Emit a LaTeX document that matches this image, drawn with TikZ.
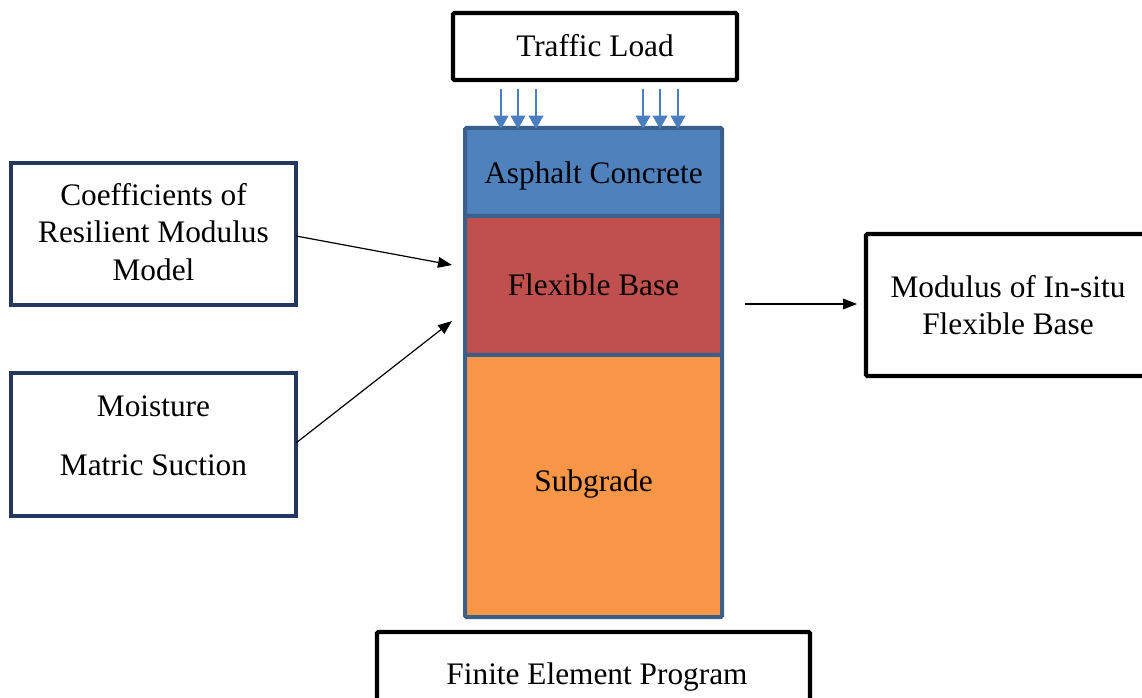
\documentclass[tikz,border=0pt]{standalone}
\usepackage{fontspec}
\setmainfont{Liberation Serif}
\usetikzlibrary{arrows.meta}
\definecolor{navyb}{RGB}{35,55,95}
\definecolor{layerb}{RGB}{58,95,138}
\definecolor{acfill}{RGB}{79,129,189}
\definecolor{fbfill}{RGB}{192,80,77}
\definecolor{sgfill}{RGB}{247,150,70}
\definecolor{loadc}{RGB}{74,126,191}
\tikzset{
  x=0.75pt, y=-0.75pt,
  txt/.style={font=\fontsize{23.5pt}{28pt}\selectfont, align=center, inner sep=0pt},
  blackbox/.style={draw=black, line width=3.2pt, fill=white, rounded corners=1pt},
  navybox/.style={draw=navyb, line width=2.6pt, fill=white},
  layer/.style={draw=layerb, line width=3pt, rounded corners=1pt},
  conn/.style={-{Triangle[length=10.5pt,width=8pt]}, line width=0.9pt, black},
  load/.style={-{Triangle[length=10pt,width=11pt]}, line width=1.2pt, loadc}
}
\begin{document}
\begin{tikzpicture}
\useasboundingbox (0,0) rectangle (1142,698);
\clip (0,0) rectangle (1142,698);
% boxes
\draw[blackbox] (453,13) rectangle (737,80);
\node[txt] (traffic) at (595,46) {Traffic Load};
\draw[navybox] (11,163) rectangle (296,305);
\node[txt] (coef) at (153.5,232) {Coefficients of\\Resilient Modulus\\Model};
\draw[navybox] (11,373) rectangle (296,516);
\node[txt] (moist) at (153.5,436) {Moisture\\[16pt]Matric Suction};
\draw[blackbox] (866,234) rectangle (1160,376);
\node[txt] (modulus) at (1008,305) {Modulus of In-situ\\Flexible Base};
\draw[blackbox] (377,632) rectangle (810,720);
\node[txt] (fep) at (597,677) {Finite Element Program};
% layers
\draw[layer, fill=sgfill] (465,355) rectangle (722,617);
\draw[layer, fill=fbfill] (465,216) rectangle (722,355);
\draw[layer, fill=acfill] (465,128) rectangle (722,216);
\node[txt] (ac) at (593.5,176) {Asphalt Concrete};
\node[txt] (fb) at (593.5,285) {Flexible Base};
\node[txt] (sg) at (593.5,484) {Subgrade};
% load arrows
\foreach \i/\xx in {1/501,2/518,3/536,4/643,5/660,6/678}{
  \coordinate (la\i) at (\xx,89);
  \coordinate (lb\i) at (\xx,129);
  \draw[load] (la\i) -- (lb\i);
}
% connectors
\coordinate (c1s) at (296,236);
\coordinate (c1e) at (452,265);
\coordinate (c2s) at (296,443);
\coordinate (c2e) at (452,321);
\coordinate (c3s) at (745,304);
\coordinate (c3e) at (857,304);
\draw[conn] (c1s) -- (c1e);
\draw[conn] (c2s) -- (c2e);
\draw[conn] (c3s) -- (c3e);
\end{tikzpicture}
\end{document}
